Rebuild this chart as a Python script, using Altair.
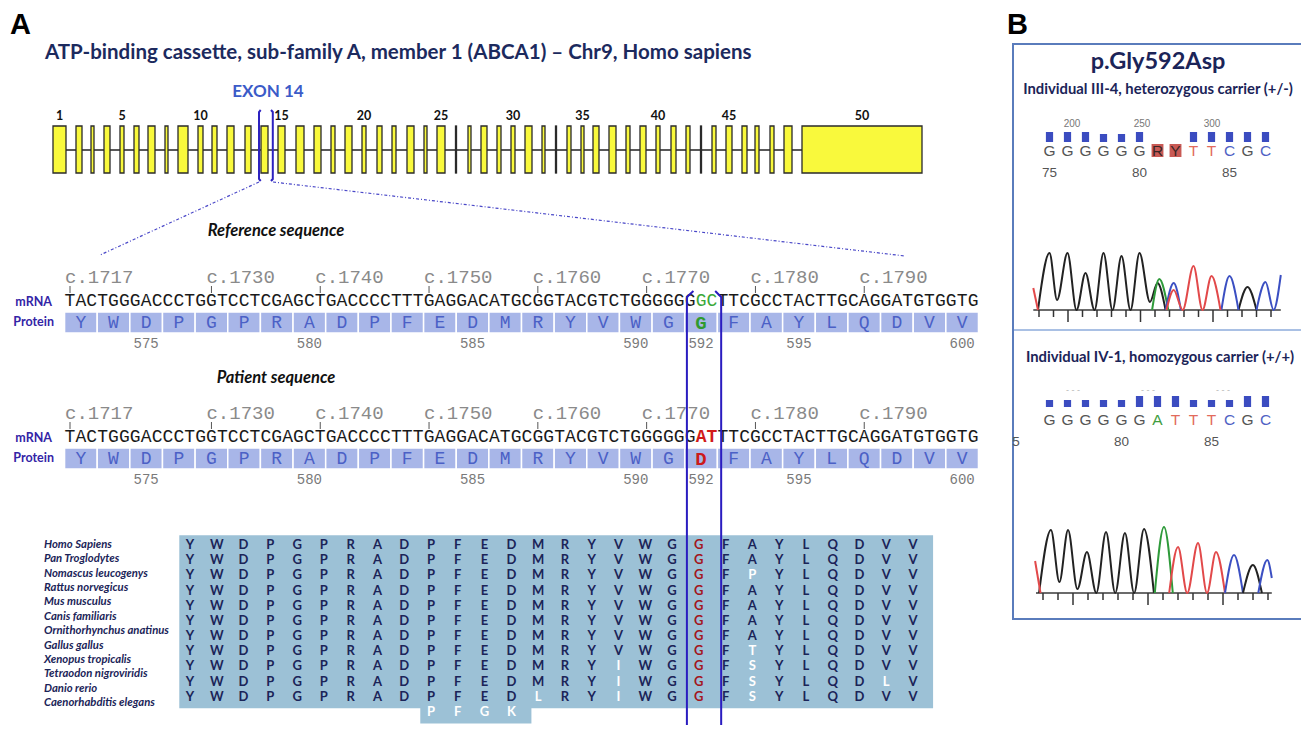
import altair as alt
import pandas as pd

OFF = 8
W, H = 1293, 717
SANS = "Lato"
MONO = "Liberation Mono"
ARIAL = "Liberation Sans"
NAVY = "#1b2458"

# ---------------- data ----------------
TITLE = "ATP-binding cassette, sub-family A, member 1 (ABCA1) \u2013 Chr9, Homo sapiens"

exon_len = [13, 6, 3, 6, 4, 5, 7, 3, 10, 5, 5, 7, 6, 7, 7, 8, 7, 4, 7, 4,
            5, 4, 7, 3, 8, 1, 3, 6, 4, 4, 7, 3, 1, 4, 3, 6, 7, 4, 6, 4,
            5, 4, 1, 4, 6, 5, 4, 4, 8, 120]
intron_len = [10, 9, 10, 10, 10, 9, 10, 10, 10, 9, 10, 11, 10, 10, 11, 10, 10, 10, 10, 11,
              10, 11, 10, 10, 10.5, 11.5, 10, 10, 10, 10, 10, 10.5, 10.5, 10, 9, 10, 10, 10, 10, 11,
              10, 10.5, 10.5, 10, 10, 8, 11, 10, 10]
exon_ticks = [1, 5, 10, 15, 20, 25, 30, 35, 40, 45, 50]
mini_exons = [26, 33, 43]
focus_exon = 14

first_nt = 1717
first_aa = 573
ref_codons = ["TAC", "TGG", "GAC", "CCT", "GGT", "CCT", "CGA", "GCT", "GAC", "CCC",
              "TTT", "GAG", "GAC", "ATG", "CGG", "TAC", "GTC", "TGG", "GGG", "GGC",
              "TTC", "GCC", "TAC", "TTG", "CAG", "GAT", "GTG", "GTG"]
pat_codons = ref_codons[:19] + ["GAT"] + ref_codons[20:]
ref_protein = "YWDPGPRADPFEDMRYVWGGFAYLQDVV"
pat_protein = "YWDPGPRADPFEDMRYVWGDFAYLQDVV"
mut_nt = [1775, 1776]
mut_aa = 592
c_labels = [1717, 1730, 1740, 1750, 1760, 1770, 1780, 1790]
aa_labels = [575, 580, 585, 590, 592, 595, 600]

species = ["Homo Sapiens", "Pan Troglodytes", "Nomascus leucogenys", "Rattus norvegicus",
           "Mus musculus", "Canis familiaris", "Ornithorhynchus anatinus", "Gallus gallus",
           "Xenopus tropicalis", "Tetraodon nigroviridis", "Danio rerio", "Caenorhabditis elegans"]
alignment = ["YWDPGPRADPFEDMRYVWGGFAYLQDVV",
             "YWDPGPRADPFEDMRYVWGGFAYLQDVV",
             "YWDPGPRADPFEDMRYVWGGFPYLQDVV",
             "YWDPGPRADPFEDMRYVWGGFAYLQDVV",
             "YWDPGPRADPFEDMRYVWGGFAYLQDVV",
             "YWDPGPRADPFEDMRYVWGGFAYLQDVV",
             "YWDPGPRADPFEDMRYVWGGFAYLQDVV",
             "YWDPGPRADPFEDMRYVWGGFTYLQDVV",
             "YWDPGPRADPFEDMRYIWGGFSYLQDVV",
             "YWDPGPRADPFEDMRYIWGGFSYLQDLV",
             "YWDPGPRADPFEDLRYIWGGFSYLQDVV",
             "---------PFGK---------------"]
site_col = 19

het_calls = "GGGGGGRYTTCGC"
hom_calls = "GGGGGGATTTCGC"
het_quality = [10, 10, 10, 8, 8, 10, 0, 0, 10, 10, 10, 10, 10]
hom_quality = [7, 7, 7, 7, 7, 11, 11, 11, 7, 7, 7, 11, 11]
het_first_base = 75
hom_first_base = 76
het_base_labels = [75, 80, 85]
hom_base_labels = [80, 85]
read_labels = [200, 250, 300]
het_scan_ticks = [980, 990, 1000, 1010, 1020, 1030, 1040, 1050, 1060, 1070, 1080, 1090, 1100, 1110, 1120, 1130, 1140]
hom_scan_ticks = [980, 990, 1000, 1010, 1020, 1030, 1040, 1050, 1060, 1070, 1080, 1090, 1100, 1110, 1120, 1130]
hom_scan_marks = [1000, 1050, 1100]

# chromatogram traces: (dye, [(base slot, signal), ...])
het_traces = [
    ("black", [(-0.64, 0), (0, 57), (0.42, 10), (1, 57), (1.5, 0), (2, 37), (2.5, 0), (3, 57), (3.5, 0),
               (4, 54), (4.5, 0), (5, 57), (5.58, 8), (6, 27), (6.45, 0)]),
    ("black", [(10.5, 0), (11, 23), (11.5, 0)]),
    ("green", [(5.7, 0), (6.1, 31), (6.6, 0)]),
    ("blue", [(6.45, 0), (6.9, 27), (7.3, 0)]),
    ("blue", [(9.55, 0), (10, 34), (10.5, 0)]),
    ("blue", [(11.5, 0), (12, 28), (12.45, 0), (12.85, 35)]),
    ("red", [(-0.9, 22), (-0.64, 0)]),
    ("red", [(6.5, 0), (6.9, 20), (7.4, 0), (8, 44), (8.5, 0), (9, 34), (9.5, 0)]),
]
hom_traces = [
    ("black", [(-0.58, 0), (0.08, 63), (0.55, 11), (1.03, 63), (1.55, 4), (2.08, 41), (2.6, 0), (3.14, 61),
               (3.65, 0), (4.19, 60), (4.7, 0), (5.25, 64), (5.8, 0)]),
    ("green", [(5.85, 0), (6.36, 66), (6.85, 0)]),
    ("red", [(-0.8, 32), (-0.5, 0)]),
    ("red", [(6.65, 0), (7.14, 46), (7.65, 0), (8.25, 50), (8.75, 0), (9.25, 41), (9.75, 0)]),
    ("blue", [(9.75, 0), (10.25, 38), (10.75, 0)]),
    ("black", [(10.75, 0), (11.3, 28), (11.8, 0)]),
    ("blue", [(11.6, 0), (12.1, 33), (12.35, 15)]),
]


# ---------------- helpers ----------------
def X(field, dom, r0, r1):
    return alt.X(field, type="quantitative", axis=None,
                 scale=alt.Scale(domain=dom, range=[r0 - OFF, r1 - OFF], nice=False, zero=False))


def Y(field, dom, r0, r1):
    return alt.Y(field, type="quantitative", axis=None,
                 scale=alt.Scale(domain=dom, range=[r0 - OFF, r1 - OFF], nice=False, zero=False))


def V(p):
    return alt.value(p - OFF)


PY = lambda f: Y(f, [0, 1000], 0, 1000)


def note(text, x, y, size, color="#000", font=SANS, weight="normal", style="normal", align="left"):
    return alt.Chart(pd.DataFrame({"t": [text]})).mark_text(
        font=font, fontSize=size, fontWeight=weight, fontStyle=style, color=color,
        align=align, baseline="middle").encode(x=V(x), y=V(y), text="t:N")


layers = []

# ---------------- panel A: header ----------------
layers.append(note("A", 10, 25, 29, "#000", ARIAL, "bold"))
layers.append(note("B", 1007, 25, 29, "#000", ARIAL, "bold"))
layers.append(note(TITLE, 45, 53, 20.5, "#1c2a5e", SANS, "bold"))

# ---------------- exon map ----------------
starts, ends = [], []
pos = 0.0
for i, L in enumerate(exon_len):
    starts.append(pos)
    ends.append(pos + L)
    pos += L
    if i < len(intron_len):
        pos += intron_len[i]
gene_total = pos
exons = pd.DataFrame({"exon": list(range(1, len(exon_len) + 1)), "start": starts, "end": ends})
exons["kind"] = ["mini" if e in mini_exons else "exon" for e in exons["exon"]]
exons["mid"] = (exons["start"] + exons["end"]) / 2
GX = lambda f: X(f, [0, gene_total], 53, 922)

backbone = pd.DataFrame({"a": [0.0], "b": [gene_total]})
layers.append(alt.Chart(backbone).mark_rule(color="#222", strokeWidth=1.6).encode(
    x=GX("a"), x2="b", y=V(150)))
layers.append(alt.Chart(exons).mark_rect(stroke="#2a2a2a", strokeWidth=1.3).encode(
    x=GX("start"), x2="end", y=V(126), y2=V(173),
    fill=alt.Fill("kind:N", scale=alt.Scale(domain=["exon", "mini"], range=["#f9f93c", "#111111"]), legend=None)))
layers.append(alt.Chart(exons[exons["exon"].isin(exon_ticks)]).mark_text(
    font=SANS, fontSize=12.5, fontWeight="bold", color="#111", baseline="middle").encode(
    x=GX("mid"), y=V(116), text="exon:N"))

fs = float(exons.loc[exons.exon == focus_exon, "start"].iloc[0])
fe = float(exons.loc[exons.exon == focus_exon, "end"].iloc[0])
brk = pd.DataFrame({
    "side": ["l"] * 4 + ["r"] * 4,
    "o": [0, 1, 2, 3] * 2,
    "gx": [fs - 0.3, fs - 2, fs - 2, fs - 0.3, fe + 3, fe + 4.8, fe + 4.8, fe + 3],
    "py": [110, 112, 179, 181, 110, 112, 179, 181],
})
layers.append(alt.Chart(brk).mark_line(color="#2d22c0", strokeWidth=2).encode(
    x=GX("gx"), y=PY("py"), detail="side:N", order="o:Q"))
layers.append(note("EXON 14", 268, 92, 17, "#3b5bc8", SANS, "bold", align="center"))

zoomlines = pd.DataFrame({"x": [259, 273], "y": [182, 182], "x2": [100, 905], "y2": [255, 256]})
for _, r in zoomlines.iterrows():
    layers.append(alt.Chart(pd.DataFrame({"k": [0]})).mark_rule(
        color="#4a48c8", strokeWidth=1.2, strokeDash=[3, 2, 1, 2]).encode(
        x=V(r["x"]), y=V(r["y"]), x2=V(r["x2"]), y2=V(r["y2"])))

# ---------------- sequence blocks ----------------
SEQ_STEP = 10.88
SX = lambda f: X(f, [0, 83], 70, 70 + 83 * SEQ_STEP)


def seq_block(codons, protein, y0, title, title_y, nt_color, nt_bold, aa_color):
    out = []
    out.append(note(title, 276, title_y, 16.5, "#111", SANS, "bold", "italic", align="center"))
    mrna = "".join(codons)
    nt = pd.DataFrame({"i": list(range(len(mrna))), "ch": list(mrna)})
    nt["pos"] = nt["i"] + first_nt
    nt["mut"] = nt["pos"].isin(mut_nt)
    out.append(alt.Chart(nt[~nt["mut"]]).mark_text(
        font=MONO, fontSize=18, color="#1a1a1a", baseline="middle").encode(x=SX("i"), y=V(y0), text="ch:N"))
    out.append(alt.Chart(nt[nt["mut"]]).mark_text(
        font=MONO, fontSize=18, color=nt_color, fontWeight="bold" if nt_bold else "normal",
        baseline="middle").encode(x=SX("i"), y=V(y0), text="ch:N"))
    cl = pd.DataFrame({"n": c_labels})
    cl["i"] = cl["n"] - first_nt
    cl["t"] = ["c." + str(n) for n in cl["n"]]
    out.append(alt.Chart(cl).mark_text(font=MONO, fontSize=19, color="#8a8a8a", align="left",
                                       baseline="middle", dx=-5).encode(x=SX("i"), y=V(y0 - 24), text="t:N"))
    out.append(alt.Chart(cl).mark_rule(color="#555", strokeWidth=1).encode(
        x=SX("i"), y=V(y0 - 15), y2=V(y0 - 8)))
    aa = pd.DataFrame({"r": list(range(len(protein))), "aa": list(protein)})
    aa["num"] = aa["r"] + first_aa
    aa["x0"] = aa["r"] * 3 - 0.5
    aa["x1"] = aa["r"] * 3 + 2.5
    aa["xc"] = aa["r"] * 3 + 1
    out.append(alt.Chart(aa).mark_rect(fill="#a8b6e8", stroke="#ffffff", strokeWidth=1.5).encode(
        x=SX("x0"), x2="x1", y=V(y0 + 11), y2=V(y0 + 32)))
    out.append(alt.Chart(aa[aa["num"] != mut_aa]).mark_text(
        font=MONO, fontSize=18, color="#4b60c6", baseline="middle").encode(x=SX("xc"), y=V(y0 + 22), text="aa:N"))
    out.append(alt.Chart(aa[aa["num"] == mut_aa]).mark_text(
        font=MONO, fontSize=19, color=aa_color, fontWeight="bold", baseline="middle").encode(
        x=SX("xc"), y=V(y0 + 22), text="aa:N"))
    out.append(alt.Chart(aa[aa["num"].isin(aa_labels)]).mark_text(
        font=MONO, fontSize=14, color="#7a7a7a", baseline="middle").encode(x=SX("xc"), y=V(y0 + 43), text="num:N"))
    out.append(note("mRNA", 52, y0 + 1, 12.5, "#3324a6", SANS, "bold", align="right"))
    out.append(note("Protein", 54, y0 + 21, 12.5, "#3324a6", SANS, "bold", align="right"))
    return out


layers += seq_block(ref_codons, ref_protein, 301, "Reference sequence", 231, "#3aa83a", False, "#2f9a2f")
layers += seq_block(pat_codons, pat_protein, 437, "Patient sequence", 378, "#d11a1a", True, "#cc1a1a")

# ---------------- alignment ----------------
CX = lambda f: X(f, [0, 27], 190, 913)
RY = lambda f: Y(f, [0, 11], 545, 712)
rows = []
for ri, s in enumerate(alignment):
    for ci, ch in enumerate(s):
        if ch == "-":
            continue
        if ci == site_col:
            kind = "site"
        elif ri == len(alignment) - 1 or ch != alignment[0][ci]:
            kind = "sub"
        else:
            kind = "cons"
        rows.append({"row": ri, "col": ci, "aa": ch, "kind": kind})
aln = pd.DataFrame(rows)

ext = aln.groupby("row")["col"].agg(["min", "max"]).reset_index()
blocks = []
for (mn, mx), g in ext.groupby(["min", "max"]):
    blocks.append({"x0": mn - 0.4, "x1": mx + 0.75, "y0": g["row"].min() - 0.65, "y1": g["row"].max() + 0.75})
blocks = pd.DataFrame(blocks)
layers.append(alt.Chart(blocks).mark_rect(fill="#9cc1d6").encode(
    x=CX("x0"), x2="x1", y=RY("y0"), y2="y1"))
layers.append(alt.Chart(aln).mark_text(font=SANS, fontSize=13, fontWeight="bold", baseline="middle").encode(
    x=CX("col"), y=RY("row"), text="aa:N",
    color=alt.Color("kind:N", scale=alt.Scale(domain=["cons", "sub", "site"],
                                              range=[NAVY, "#ffffff", "#a3161e"]), legend=None)))
sp = pd.DataFrame({"i": list(range(len(species))), "name": species})
layers.append(alt.Chart(sp).mark_text(font=SANS, fontSize=11.3, fontWeight="bold", fontStyle="italic",
                                      color=NAVY, align="left", baseline="middle").encode(
    x=V(44), y=Y("i", [0, 11], 545, 703), text="name:N"))

# mutation bracket (over sequences and alignment)
mb = pd.DataFrame({
    "side": ["l"] * 3 + ["r"] * 3,
    "o": [0, 1, 2] * 2,
    "sx": [57.3, 56.7, 56.7, 59.3, 59.85, 59.85],
    "py": [291, 297, 760, 291, 297, 760],
})
layers.append(alt.Chart(mb).mark_line(color="#2a1cc0", strokeWidth=2).encode(
    x=SX("sx"), y=PY("py"), detail="side:N", order="o:Q"))

# ---------------- panel B ----------------
layers.append(alt.Chart(pd.DataFrame({"k": [0]})).mark_rect(
    fillOpacity=0, stroke="#5a7cbc", strokeWidth=2).encode(x=V(1013), x2=V(1340), y=V(44), y2=V(619)))
layers.append(alt.Chart(pd.DataFrame({"k": [0]})).mark_rule(color="#a9c0e4", strokeWidth=2).encode(
    x=V(1014), x2=V(1320), y=V(330)))
layers.append(note("p.Gly592Asp", 1158, 62, 23.5, NAVY, SANS, "bold", align="center"))
layers.append(note("Individual III-4, heterozygous carrier (+/-)", 1158, 90, 14.8, NAVY, SANS, "bold", align="center"))
layers.append(note("Individual IV-1, homozygous carrier (+/+)", 1160, 358, 14.8, NAVY, SANS, "bold", align="center"))

SLOT = lambda f: X(f, [0, 12], 1049.5, 1265.5)
base_dom = ["G", "A", "T", "C", "R", "Y"]
base_rng = ["#555555", "#3f9e3f", "#e26a5c", "#4f63c4", "#3a2626", "#3a2626"]
dye_dom = ["black", "green", "red", "blue"]
dye_rng = ["#222222", "#2e9a3a", "#e2494a", "#3b4fc2"]


def chromatogram(calls, quality, first_base, base_labels, traces, ticks, tick_dom, tick_rng,
                 qual_bottom, letter_y, num_y, base_y, x_from, x_to):
    out = []
    cd = pd.DataFrame({"slot": list(range(len(calls))), "b": list(calls), "q": quality})
    cd["l"] = cd["slot"] - 0.2
    cd["r"] = cd["slot"] + 0.2
    cd["l2"] = cd["slot"] - 0.33
    cd["r2"] = cd["slot"] + 0.33
    amb = cd[cd["b"].isin(["R", "Y"])]
    if len(amb):
        out.append(alt.Chart(amb).mark_rect(fill="#c95a55").encode(
            x=SLOT("l2"), x2="r2", y=V(letter_y - 7), y2=V(letter_y + 6)))
    out.append(alt.Chart(cd[cd["q"] > 0]).mark_rect(fill="#3b4cc0").encode(
        x=SLOT("l"), x2="r", y=Y("q", [0, 10], qual_bottom, qual_bottom - 10), y2=V(qual_bottom)))
    out.append(alt.Chart(cd).mark_text(font=ARIAL, fontSize=15.5, baseline="middle").encode(
        x=SLOT("slot"), y=V(letter_y), text="b:N",
        color=alt.Color("b:N", scale=alt.Scale(domain=base_dom, range=base_rng), legend=None)))
    bl = pd.DataFrame({"n": base_labels})
    bl["slot"] = bl["n"] - first_base
    out.append(alt.Chart(bl).mark_text(font=ARIAL, fontSize=13.5, color="#555", baseline="middle").encode(
        x=SLOT("slot"), y=V(num_y), text="n:N"))
    # baseline
    out.append(alt.Chart(pd.DataFrame({"a": [x_from], "b": [x_to]})).mark_rule(
        color="#3a3a3a", strokeWidth=1.5).encode(x=SLOT("a"), x2="b", y=V(base_y)))
    # scan ticks
    tk = pd.DataFrame({"s": ticks})
    tk["long"] = tk["s"] % 50 == 0
    SC = lambda f: X(f, tick_dom, tick_rng[0], tick_rng[1])
    out.append(alt.Chart(tk[~tk["long"]]).mark_rule(color="#333", strokeWidth=1.5).encode(
        x=SC("s"), y=V(base_y), y2=V(base_y + 7)))
    out.append(alt.Chart(tk[tk["long"]]).mark_rule(color="#333", strokeWidth=1.5).encode(
        x=SC("s"), y=V(base_y), y2=V(base_y + 12)))
    # traces
    pts = []
    for si, (dye, seg) in enumerate(traces):
        for k, (s, h) in enumerate(seg):
            pts.append({"seg": si, "dye": dye, "slot": s, "h": h, "o": k})
    pts = pd.DataFrame(pts)
    out.append(alt.Chart(pts).mark_line(strokeWidth=2, interpolate="monotone").encode(
        x=SLOT("slot"), y=Y("h", [0, 60], base_y, base_y - 60), detail="seg:N", order="o:Q",
        color=alt.Color("dye:N", scale=alt.Scale(domain=dye_dom, range=dye_rng), legend=None)))
    return out


# read-position scale labels (heterozygous panel)
rl = pd.DataFrame({"n": read_labels})
layers.append(alt.Chart(rl).mark_text(font=ARIAL, fontSize=10, color="#777", baseline="middle").encode(
    x=X("n", [200, 300], 1072, 1212), y=V(124), text="n:N"))
layers += chromatogram(het_calls, het_quality, het_first_base, het_base_labels, het_traces,
                       het_scan_ticks, [1000, 1100], [1068, 1213], 142, 151, 173, 310, -0.9, 12.85)

hm = pd.DataFrame({"s": hom_scan_marks})
layers.append(alt.Chart(hm).mark_text(font=ARIAL, fontSize=9, color="#b5b5b5", baseline="middle", text="- - -").encode(
    x=X("s", [1000, 1100], 1073, 1223), y=V(390)))
layers.append(note("5", 1016, 442, 13.5, "#555", ARIAL, align="center"))
layers += chromatogram(hom_calls, hom_quality, hom_first_base, hom_base_labels, hom_traces,
                       hom_scan_ticks, [1000, 1100], [1073, 1223], 407, 420, 442, 593, -0.75, 12.35)

chart = alt.layer(*layers).properties(
    width=W, height=H, padding=0, autosize=alt.AutoSizeParams(type="none"), background="white"
).resolve_scale(
    x="independent", y="independent", color="independent", fill="independent"
).configure_view(stroke=None)

chart.save("out.html", embed_options={"renderer": "svg", "actions": False})
